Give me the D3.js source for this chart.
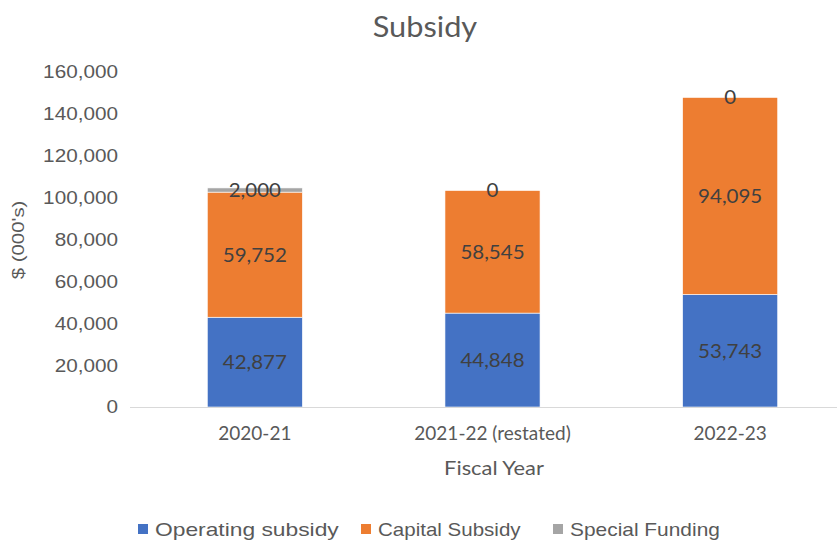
<!DOCTYPE html>
<html>
<head>
<meta charset="utf-8">
<script src="https://cdn.jsdelivr.net/npm/d3@7"></script>
<style>
  body { margin: 0; background: #fff; }
  text { font-family: "Liberation Sans", Arial, sans-serif; }
  .cal { font-family: Lato, "Open Sans", sans-serif; }
</style>
</head>
<body>
<svg id="chart" width="837" height="541"></svg>
<script>
// Data
var years = ['2020-21', '2021-22 (restated)', '2022-23'];
var seriesNames = ['Operating subsidy', 'Capital Subsidy', 'Special Funding'];
var operating = [42877, 44848, 53743];
var capital = [59752, 58545, 94095];
var special = [2000, 0, 0];
var yTicks = [0, 20000, 40000, 60000, 80000, 100000, 120000, 140000, 160000];

var colors = ['#4472C4', '#ED7D31', '#A5A5A5'];

var svg = d3.select('#chart');
var width = +svg.attr('width');

var plot = {l: 136, r: 849, t: 72, b: 407};

// the reference text is drawn a bit wider than these fonts, so stretch it
function stretch(sel, factor) {
    sel.each(function() {
        var len = this.getComputedTextLength();
        d3.select(this)
            .attr('textLength', len * factor)
            .attr('lengthAdjust', 'spacingAndGlyphs');
    });
}

// build rows for the stack
var rows = years.map(function(y, i) {
    return {year: y, 'Operating subsidy': operating[i], 'Capital Subsidy': capital[i], 'Special Funding': special[i]};
});
var stacked = d3.stack().keys(seriesNames)(rows);

var x = d3.scaleBand()
    .domain(years)
    .range([plot.l, plot.r])
    .paddingInner(0.6)
    .paddingOuter(0.3);

var y = d3.scaleLinear()
    .domain([0, 160000])
    .range([plot.b, plot.t]);

// title
svg.append('text')
    .attr('class', 'cal')
    .attr('x', 425).attr('y', 37)
    .attr('text-anchor', 'middle')
    .attr('font-size', 29)
    .attr('fill', '#595959')
    .text('Subsidy')
    .call(stretch, 1.06);

// y axis labels (no axis line)
var yAxis = svg.append('g')
    .attr('transform', 'translate(' + [plot.l - 18, 0] + ')')
    .call(d3.axisLeft(y).tickValues(yTicks).tickSize(0).tickPadding(0).tickFormat(d3.format(',')));
yAxis.select('.domain').remove();
yAxis.selectAll('text')
    .attr('font-family', '"Liberation Sans", Arial, sans-serif')
    .attr('font-size', 18.5)
    .attr('fill', '#595959')
    .call(stretch, 1.12);

// bars
var layers = svg.append('g').selectAll('g')
    .data(stacked)
    .enter().append('g')
    .attr('fill', function(d, i) { return colors[i]; });

layers.selectAll('rect')
    .data(function(d) { return d; })
    .enter().append('rect')
    .attr('x', function(d) { return x(d.data.year); })
    .attr('width', x.bandwidth())
    .attr('y', function(d) { return y(d[1]); })
    .attr('height', function(d) { return y(d[0]) - y(d[1]); })
    .attr('stroke', '#fff')
    .attr('stroke-width', 0.6);

// x axis baseline
svg.append('g')
    .attr('transform', 'translate(' + [0, plot.b] + ')')
    .call(d3.axisBottom(x).tickSize(0).tickPadding(0))
    .call(function(g) {
        g.select('.domain').attr('stroke', '#d9d9d9').attr('d', 'M' + (plot.l - 6) + ',0.5H' + width);
        g.selectAll('text')
            .attr('class', 'cal')
            .attr('font-family', 'Lato, "Open Sans", sans-serif')
            .attr('font-size', 19)
            .attr('fill', '#595959')
            .attr('dy', 0)
            .attr('y', 33);
    });

// data labels
layers.selectAll('text.lbl')
    .data(function(d) { return d; })
    .enter().append('text')
    .attr('class', 'lbl cal')
    .attr('x', function(d) { return x(d.data.year) + x.bandwidth() / 2; })
    .attr('y', function(d) { return (y(d[0]) + y(d[1])) / 2; })
    .attr('dy', '0.36em')
    .attr('text-anchor', 'middle')
    .attr('font-size', 19)
    .attr('fill', '#404040')
    .text(function(d) { return d3.format(',')(d[1] - d[0]); })
    .call(stretch, 1.08);

// axis titles
svg.append('text')
    .attr('class', 'cal')
    .attr('x', 494).attr('y', 475)
    .attr('text-anchor', 'middle')
    .attr('font-size', 19)
    .attr('fill', '#595959')
    .text('Fiscal Year')
    .call(stretch, 1.15);

svg.append('text')
    .attr('transform', 'translate(24,240) rotate(-90)')
    .attr('text-anchor', 'middle')
    .attr('font-size', 17)
    .attr('fill', '#595959')
    .text("$ (000's)")
    .call(stretch, 1.2);

// legend
var legendX = [138, 361, 553];
var legendScale = [1.2, 1.08, 1.1];
var legend = svg.append('g').selectAll('g')
    .data(seriesNames)
    .enter().append('g')
    .attr('transform', function(d, i) { return 'translate(' + [legendX[i], 529] + ')'; });
legend.append('rect')
    .attr('x', 0).attr('y', -5)
    .attr('width', 10).attr('height', 10)
    .attr('fill', function(d, i) { return colors[i]; });
legend.append('text')
    .attr('x', 17).attr('dy', '0.36em')
    .attr('font-size', 19)
    .attr('fill', '#595959')
    .text(function(d) { return d; })
    .each(function(d, i) { d3.select(this).call(stretch, legendScale[i]); });
</script>
</body>
</html>
